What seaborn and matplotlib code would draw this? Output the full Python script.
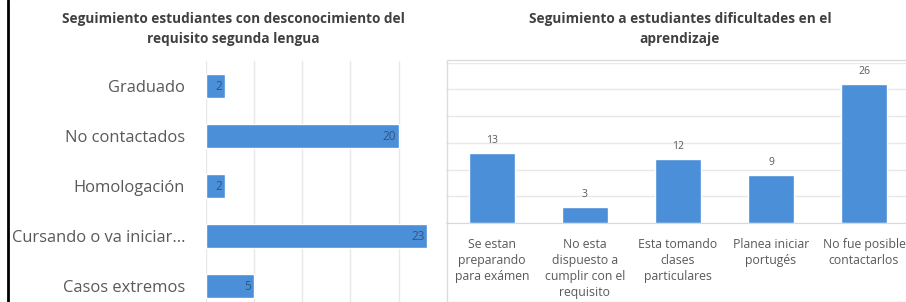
import matplotlib
matplotlib.use("Agg")
import matplotlib.pyplot as plt
import seaborn as sns
import pandas as pd
from matplotlib.patches import Rectangle
from matplotlib.lines import Line2D

# left chart data
left_title = "Seguimiento estudiantes con desconocimiento del\nrequisito segunda lengua"
left_cats = ["Graduado", "No contactados", "Homologación", "Cursando o va iniciar...", "Casos extremos"]
left_vals = [2, 20, 2, 23, 5]

# right chart data
right_title = "Seguimiento a estudiantes dificultades en el\naprendizaje"
right_cats = ["Se estan\npreparando\npara exámen", "No esta\ndispuesto a\ncumplir con el\nrequisito",
              "Esta tomando\nclases\nparticulares", "Planea iniciar\nportugés", "No fue posible\ncontactarlos"]
right_vals = [13, 3, 12, 9, 26]

sns.set_style("white")
plt.rcParams['font.family'] = ['Open Sans', 'DejaVu Sans']

blue = "#4a8fd8"
grid = "#e8e8e8"
txt = "#595959"

W, H = 906, 302
fig = plt.figure(figsize=(W / 100, H / 100), dpi=100)

# ---- left: horizontal bars
df_l = pd.DataFrame({'cat': left_cats, 'val': left_vals})
ax1 = fig.add_axes([206 / W, (H - 311) / H, (440 - 206) / W, 250 / H])
sns.barplot(data=df_l, y='cat', x='val', color=blue, width=0.47, ax=ax1, saturation=1)
ax1.set_xlim(0, 24.3)
ax1.set_xticks([0, 5, 10, 15, 20])
ax1.xaxis.grid(True, color=grid, lw=1)
ax1.set_axisbelow(True)
ax1.set_xticklabels([])
ax1.set_xlabel('')
ax1.set_ylabel('')
for s in ax1.spines.values():
    s.set_visible(False)
ax1.tick_params(axis='y', length=0, pad=15, labelsize=11.9, labelcolor=txt)
ax1.tick_params(axis='x', length=0)
for i, v in enumerate(left_vals):
    ax1.text(v - 0.3, i, str(v), ha='right', va='center', fontsize=8.5, color="#34557f")
fig.text(233 / W, (H - 29) / H, left_title, ha='center', va='center', fontsize=9.8,
         fontweight='bold', color="#404040", linespacing=1.6)

# ---- right: vertical bars
df_r = pd.DataFrame({'cat': right_cats, 'val': right_vals})
ax2 = fig.add_axes([445.5 / W, (H - 223) / H, 465 / W, 160.5 / H])
sns.barplot(data=df_r, x='cat', y='val', color=blue, width=0.5, ax=ax2, saturation=1)
ax2.set_ylim(0, 30)
ax2.set_yticks([0, 5, 10, 15, 20, 25, 30])
ax2.yaxis.grid(True, color=grid, lw=1)
ax2.set_axisbelow(True)
ax2.set_yticklabels([])
ax2.set_xlabel('')
ax2.set_ylabel('')
for s in ax2.spines.values():
    s.set_visible(False)
ax2.spines['bottom'].set_visible(True)
ax2.spines['bottom'].set_color("#d9d9d9")
ax2.tick_params(axis='x', length=0, pad=11, labelsize=8.8, labelcolor=txt)
ax2.tick_params(axis='y', length=0)
for lab in ax2.get_xticklabels():
    lab.set_linespacing(1.3)
for i, v in enumerate(right_vals):
    ax2.text(i, v + 1.3, str(v), ha='center', va='bottom', fontsize=7.5, color=txt)
fig.text(680 / W, (H - 29) / H, right_title, ha='center', va='center', fontsize=9.8,
         fontweight='bold', color="#404040", linespacing=1.6)

# chart area frame on the right and black edge on the left
fig.patches.append(Rectangle((447 / W, 0), 1, (H - 60) / H, transform=fig.transFigure,
                             fill=False, edgecolor="#dcdcdc", lw=1))
fig.lines.append(Line2D([8 / W, 8 / W], [0, 1], transform=fig.transFigure, color='black', lw=2))

fig.savefig("out.png", dpi=100)
